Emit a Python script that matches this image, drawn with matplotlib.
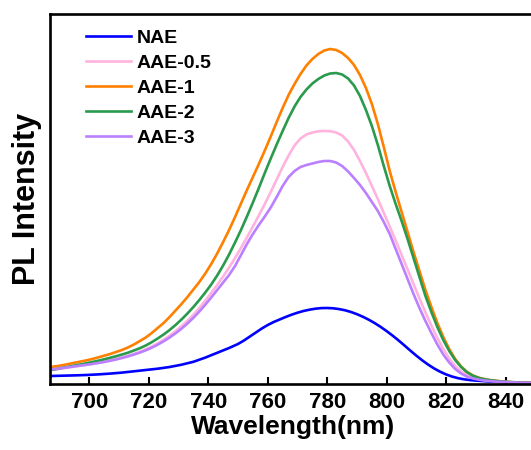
import matplotlib
matplotlib.use("Agg")
import matplotlib.pyplot as plt

plt.rcParams['font.family'] = ['Liberation Sans', 'DejaVu Sans']
plt.rcParams['font.weight'] = 'bold'

# PL spectra (wavelength in nm, intensity in a.u.)
wl_nae = [687, 691, 695, 699, 703, 707, 711, 715, 719, 723, 727, 731, 735, 739, 743, 747,
          750, 752, 754, 756, 758, 760, 762, 764, 766, 768, 770, 772, 774, 776, 778, 780,
          782, 784, 786, 788, 790, 792, 794, 796, 798, 800, 802, 804, 806, 808, 810, 812,
          814, 816, 818, 820, 822, 824, 826, 828, 831, 834, 838, 842, 846, 850]
pl_nae = [8, 8.3, 8.6, 9, 9.6, 10.4, 11.4, 12.7, 14, 15.3, 17, 19.3, 22.2, 26.4, 31.2, 36,
          40, 43.5, 47.5, 51.5, 55.5, 59, 62, 64.5, 67, 69.3, 71.3, 73, 74.3, 75.3, 75.9, 76,
          75.7, 74.9, 73.7, 72, 69.8, 67.2, 64.2, 60.8, 57, 52.8, 48.3, 43.5, 38.4, 33.2, 28.2, 23.5,
          19.2, 15.4, 12.2, 9.5, 7.4, 5.8, 4.7, 3.9, 3.2, 2.6, 2, 1.6, 1.2, 1]

wl_aae05 = [687, 689, 691, 693, 695, 697, 699, 701, 703, 705, 707, 709, 711, 713, 715, 717,
            719, 721, 723, 725, 727, 729, 731, 733, 735, 737, 739, 741, 743, 745, 747, 749,
            751, 753, 755, 757, 759, 761, 763, 765, 767, 769, 771, 773, 775, 777, 779, 781,
            783, 785, 787, 789, 791, 793, 795, 797, 799, 801, 803, 805, 807, 809, 811, 813,
            815, 817, 819, 821, 823, 825, 827, 829, 831, 833, 836, 840, 845, 850]
pl_aae05 = [14, 14.8, 15.6, 16.5, 17.4, 18.3, 19.2, 20.2, 21.3, 22.5, 23.8, 25.2, 26.7, 28.3, 30.2, 32.3,
            34.7, 37.5, 40.7, 44.3, 48.3, 52.8, 57.8, 63.3, 69.3, 76, 83.3, 91, 99, 107.5, 116.5, 126,
            136, 146.5, 157.5, 168.5, 180, 192, 204.5, 217, 228.5, 238.5, 245.5, 249.5, 251.5, 252.7, 253, 252.8,
            251.5, 248.5, 242.5, 234, 223, 211, 198, 185, 171, 157.5, 143.5, 129, 114.5, 100, 85.5, 71.5,
            58.5, 46, 35, 25.5, 18, 12.5, 8.7, 6.3, 4.8, 3.8, 2.9, 2.1, 1.4, 1]

wl_aae1 = [687, 689, 691, 693, 695, 697, 699, 701, 703, 705, 707, 709, 711, 713, 715, 717,
           719, 721, 723, 725, 727, 729, 731, 733, 735, 737, 739, 741, 743, 745, 747, 749,
           751, 753, 755, 757, 759, 761, 763, 765, 767, 769, 771, 773, 775, 777, 779, 781,
           783, 785, 787, 789, 791, 793, 795, 797, 799, 801, 803, 805, 807, 809, 811, 813,
           815, 817, 819, 821, 823, 825, 827, 829, 831, 833, 835, 838, 841, 845, 850]
pl_aae1 = [17, 17.8, 18.8, 20, 21.2, 22.4, 23.6, 25, 26.6, 28.3, 30, 32, 34, 36.5, 39.5, 43,
           46.5, 51, 56, 61, 67, 73.5, 80, 87, 94.5, 102, 110.5, 120, 130.5, 142, 154, 167,
           180.5, 194, 207, 220, 233.5, 247.5, 262, 276, 289, 300, 310, 318.5, 325, 330, 333.5, 335,
           334, 331, 326, 319, 309, 296, 280, 260, 237, 213, 192, 172, 152, 132, 113, 94,
           77, 61, 47, 35, 25, 17.5, 12, 8.5, 6.2, 4.8, 3.8, 2.8, 2, 1.4, 1]

wl_aae2 = [687, 689, 691, 693, 695, 697, 699, 701, 703, 705, 707, 709, 711, 713, 715, 717,
           719, 721, 723, 725, 727, 729, 731, 733, 735, 737, 739, 741, 743, 745, 747, 749,
           751, 753, 755, 757, 759, 761, 763, 765, 767, 769, 771, 773, 775, 777, 779, 781,
           783, 785, 787, 789, 791, 793, 795, 797, 799, 801, 803, 805, 807, 809, 811, 813,
           815, 817, 819, 821, 823, 825, 827, 829, 831, 833, 835, 838, 841, 845, 850]
pl_aae2 = [14, 15, 16.2, 17.3, 18.4, 19.5, 20.7, 22, 23.3, 24.7, 26.2, 27.8, 29.5, 31.3, 33.5, 35.8,
           38.5, 41.8, 45.5, 49.5, 54, 59, 64.5, 70.5, 77, 84, 91.5, 99.5, 108.5, 118.5, 129.5, 141.5,
           154, 167.5, 181.5, 196, 211, 225.5, 239.5, 253, 266, 277.5, 287, 294.5, 300.5, 305, 308.5, 310.5,
           311, 309.5, 305.5, 298.5, 288, 274, 258, 239, 218, 198, 180, 163, 145, 126, 107, 88,
           72, 57, 44, 33, 24, 17, 11.7, 8.2, 6, 4.6, 3.7, 2.7, 2, 1.4, 1]

wl_aae3 = [687, 689, 691, 693, 695, 697, 699, 701, 703, 705, 707, 709, 711, 713, 715, 717,
           719, 721, 723, 725, 727, 729, 731, 733, 735, 737, 739, 741, 743, 745, 747, 749,
           751, 753, 755, 757, 759, 761, 763, 765, 767, 769, 771, 773, 775, 777, 779, 781,
           783, 785, 787, 789, 791, 793, 795, 797, 799, 801, 803, 805, 807, 809, 811, 813,
           815, 817, 819, 821, 823, 825, 827, 829, 831, 833, 836, 840, 845, 850]
pl_aae3 = [14.5, 15.2, 16, 16.8, 17.6, 18.4, 19.2, 20, 21, 22, 23.2, 24.5, 26, 27.6, 29.4, 31.4,
           33.7, 36.3, 39.3, 42.7, 46.5, 50.7, 55.3, 60.5, 66.2, 72.5, 79.3, 86.5, 94, 101.5, 109, 118,
           129, 140, 150, 159, 167.5, 176.5, 187, 198, 207, 213, 217, 219, 220.5, 222, 223, 223,
           221.5, 218, 212.5, 206, 199, 191, 182, 173, 162, 150, 135, 120, 105, 90, 76, 63,
           51, 39.5, 29.5, 21.5, 15, 10.5, 7.3, 5.5, 4.3, 3.4, 2.6, 1.9, 1.3, 1]

labels = ['NAE', 'AAE-0.5', 'AAE-1', 'AAE-2', 'AAE-3']
colors = ['#0000FF', '#FFB3DE', '#FF8000', '#2A9A4C', '#BB80FF']
xticks = [700, 720, 740, 760, 780, 800, 820, 840]

series = [(wl_nae, pl_nae), (wl_aae05, pl_aae05), (wl_aae1, pl_aae1),
          (wl_aae2, pl_aae2), (wl_aae3, pl_aae3)]

W, H = 531, 450
fig = plt.figure(figsize=(W / 100, H / 100), dpi=100)
ax = fig.add_axes([50 / W, 66 / H, 485.5 / W, 370 / H])

for (x, y), lab, c in zip(series, labels, colors):
    ax.plot(x, y, color=c, lw=1.9, label=lab, solid_joinstyle='round')

ax.set_xlim(686.8, 850)
ax.set_ylim(0, 370)
ax.set_xticks(xticks)
ax.set_yticks([])
ax.tick_params(axis='x', direction='in', length=5, width=1.5, pad=6, labelsize=16)
for lbl in ax.get_xticklabels():
    lbl.set_fontweight('bold')
for s in ax.spines.values():
    s.set_linewidth(1.9)

ax.set_xlabel('Wavelength(nm)', fontsize=19, fontweight='bold', labelpad=1)
ax.set_ylabel('PL Intensity', fontsize=22, fontweight='bold', labelpad=6)

leg = ax.legend(loc='upper left', bbox_to_anchor=(86 / W, 1 - 29 / H),
                bbox_transform=fig.transFigure, frameon=False,
                prop={'size': 14, 'weight': 'bold'}, handlelength=2.3,
                handletextpad=0.3, labelspacing=0.38, borderpad=0, borderaxespad=0)

fig.savefig('out.png', dpi=100)
